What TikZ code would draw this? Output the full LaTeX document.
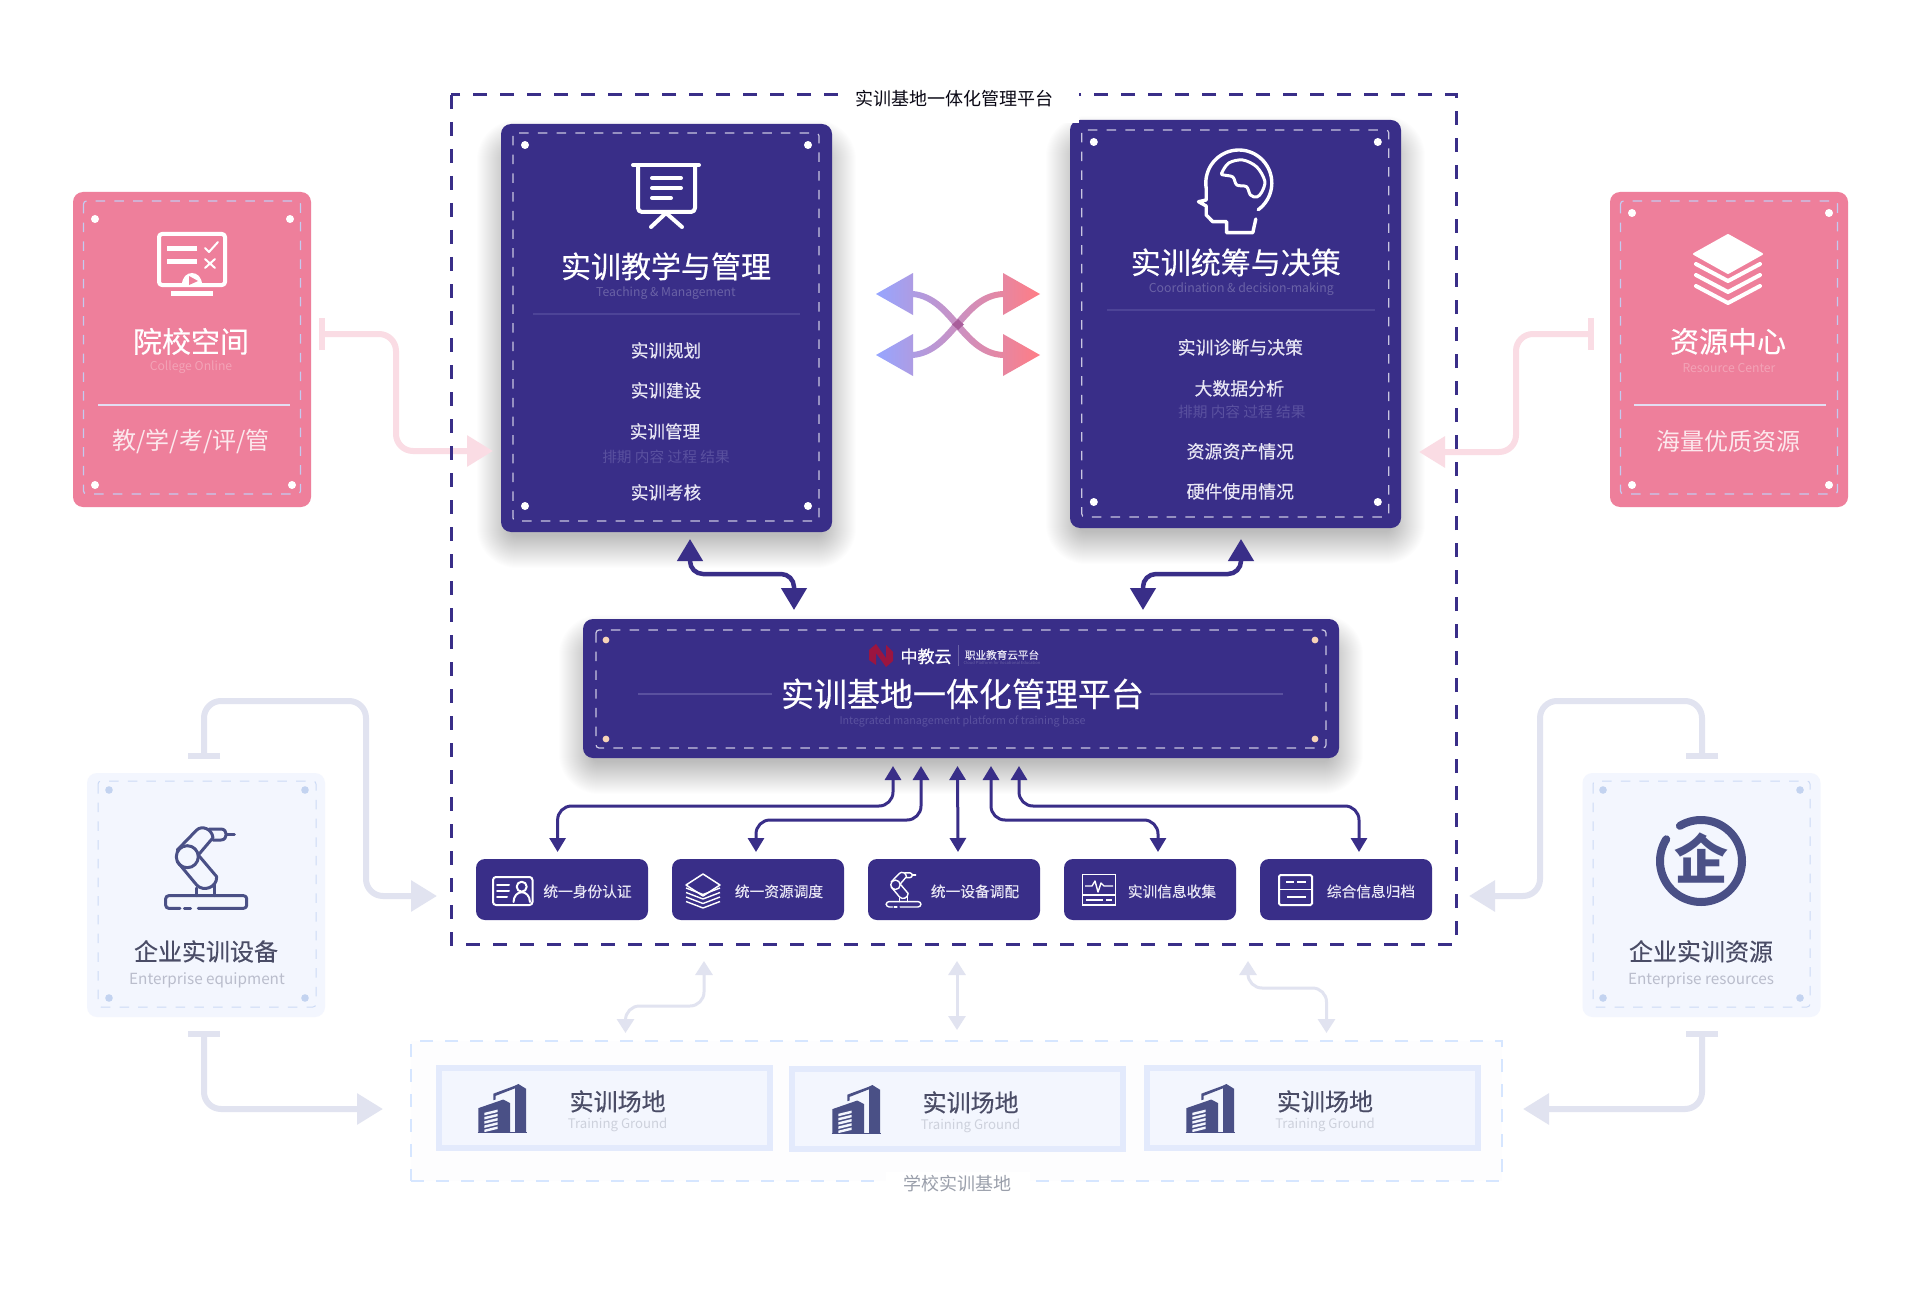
\documentclass[tikz,border=0pt]{standalone}
\usepackage{fontspec}
\setmainfont{Noto Sans CJK SC}
\newfontfamily\medf[FakeBold=0.35]{Noto Sans CJK SC}
\newfontfamily\semf[FakeBold=0.9]{Noto Sans CJK SC}
\usetikzlibrary{arrows.meta}
\definecolor{deep}{HTML}{392E88}
\definecolor{rose}{HTML}{EE7F9B}
\definecolor{rosepale}{HTML}{FADCE4}
\definecolor{lavline}{HTML}{E1E3F0}
\definecolor{paper}{HTML}{F3F6FE}
\definecolor{tilebd}{HTML}{E3EAFC}
\definecolor{frameb}{HTML}{D6E6FF}
\definecolor{ink}{HTML}{4A5086}
\definecolor{darktxt}{HTML}{4A4C66}
\definecolor{faint}{HTML}{BABDCC}
\definecolor{dsub}{HTML}{6A62A6}
\definecolor{dsubb}{HTML}{5A519F}
\definecolor{dsep}{HTML}{4D4497}
\definecolor{itemc}{HTML}{E8E6F4}
\definecolor{xl}{HTML}{96A5FF}
\definecolor{xr}{HTML}{FF7D85}
\definecolor{xmid}{HTML}{A95F9B}
\definecolor{peach}{HTML}{F7D4B8}
\definecolor{logored}{HTML}{9B1540}
\definecolor{dotblue}{HTML}{C3D3F0}
\definecolor{schoolbg}{HTML}{FDFDFE}
\definecolor{sctxt}{HTML}{9A9FAB}
\definecolor{grsub}{HTML}{CDD1DC}
\definecolor{dashpk}{HTML}{C4CBF0}
\definecolor{seppk}{HTML}{E3DDF2}
\definecolor{dashdk}{HTML}{C9C6E0}
\definecolor{dashlt}{HTML}{CCDAF5}
\newcommand\fsz[1]{\fontsize{#1}{#1}\selectfont}
\tikzset{
  cardnode/.style={rounded corners=10pt,inner sep=0pt,outer sep=0pt,draw=none},
  lbl/.style={inner sep=0pt,outer sep=0pt,align=center},
  lblc/.style={lbl,yshift=-.4pt},
  lbll/.style={lbl,yshift=-1.5pt},
  dashbox/.style={line width=1.2pt,dash pattern=on 9.5pt off 9.2pt,rounded corners=3pt},
  pinkflow/.style={draw=rosepale,line width=6pt,rounded corners=17pt},
  lavflow/.style={draw=lavline,line width=6pt,rounded corners=17pt},
  lavthin/.style={draw=lavline,line width=3pt,rounded corners=14pt,
     {Triangle[length=14pt,width=17pt]}-{Triangle[length=14pt,width=17pt]}},
  deepthick/.style={draw=deep,line width=4.5pt,rounded corners=13pt,
     {Triangle[length=22pt,width=25pt]}-{Triangle[length=22pt,width=25pt]}},
  deepthin/.style={draw=deep,line width=3pt,rounded corners=14pt,
     {Triangle[length=14pt,width=16pt]}-{Triangle[length=14pt,width=16pt]}},
  barhead/.style={{Bar[width=32pt,line width=6pt]}-{Triangle[length=26pt,width=30pt]}},
  icw/.style={draw=white,line width=4pt,line cap=round,line join=round},
  icn/.style={draw=white,line width=2pt,line cap=round,line join=round},
}
\newcommand\softshadow[4]{%
  \foreach \e in {24,23,...,-8}{%
    \pgfmathsetmacro\rr{max(6,16+\e)}%
    \fill[black,opacity=.0075,rounded corners=\rr pt]
      ({#1-\e},{#2+20-\e}) rectangle ({#3+\e},{#4+12+\e});}}
\newcommand\robotic[5]{%
  \begin{scope}[shift={(#1,#2)},scale=#3,shift={(-206,-870)},line width=#5,line cap=round,line join=round]
    \draw[#4] (187.3,856.7) circle (11pt);
    \draw[#4] (177.3,861.7) -- (196.7,885) .. controls (203,892) and (217,888) .. (216.7,876.7) -- (198.3,855);
    \draw[#4] (177.3,850) -- (196.7,830) .. controls (202,825) and (212,829) .. (213,837.7) -- (198.3,855);
    \draw[#4] (209,829) -- (221,829) .. controls (228,829) and (228,840) .. (221,840) -- (213,840);
    \draw[#4] (226.7,834.3) -- (234.3,834.3);
    \draw[#4] (196.7,888) -- (196.7,895.7);
    \draw[#4] (214.7,884) -- (214.7,895.7);
    \draw[#4,rounded corners=3pt] (180,908.3) -- (165.7,908.3) -- (165.7,895.7) -- (246.7,895.7) -- (246.7,908.3) -- (198.3,908.3);
    \draw[#4] (184.3,908.3) -- (190.7,908.3);
  \end{scope}}
\newcommand\tower[2]{%
  \begin{scope}[shift={(#1,#2)},yscale=1.08]
    \fill[ink] (50,10) -- (53.3,8.3) -- (61,12.7) -- (61,53.5) -- (50,53.5) -- cycle;
    \fill[ink] (28.3,17.3) -- (51.7,9.3) -- (51.7,11.7) -- (30.7,19.3) -- (30.7,22.7) -- (28.3,23.3) -- cycle;
    \fill[ink] (13.3,30.7) -- (38.3,22.7) -- (45,26) -- (45,53.5) -- (13.3,53.5) -- cycle;
    \foreach \k in {0,1,2,3,4}{
      \fill[paper] (19.3,{35+\k*3.9}) -- (32.7,{32+\k*3.9}) -- (32.7,{34.3+\k*3.9}) -- (19.3,{37.3+\k*3.9}) -- cycle;}
    \draw[ink,line width=1.2pt] (12.7,53.5) -- (61.7,53.5);
  \end{scope}}
\begin{document}
\begin{tikzpicture}[x=1pt,y=-1pt]
\useasboundingbox (0,0) rectangle (1920,1300);
\fill[white] (0,0) rectangle (1920,1300);

% shadows
\softshadow{501}{124}{832}{532}
\softshadow{1070}{120}{1401}{528}
\softshadow{583}{619}{1339}{758}

% frames
\node[lbl,fill=schoolbg,minimum width=1091pt,minimum height=140pt,draw=frameb,line width=2.5pt,dash pattern=on 13pt off 12pt] (school) at (956.5,1111) {};
\node[lbl,minimum width=1005pt,minimum height=849pt] (outer) at (953.5,519.5) {};

% main cards
\node[cardnode,fill=rose,minimum width=238pt,minimum height=315pt] (pinkL) at (192,349.5) {};
\node[cardnode,fill=rose,minimum width=238pt,minimum height=315pt] (pinkR) at (1729,349.5) {};
\node[cardnode,fill=paper,minimum width=238pt,minimum height=244pt] (equip) at (206,895) {};
\node[cardnode,fill=paper,minimum width=238pt,minimum height=244pt] (resrc) at (1701.5,895) {};

% coordinates of the connector ends
\coordinate (pka) at ([xshift=8,yshift=15.5]pinkL.east);
\coordinate (pkb) at (493,451);
\coordinate (pkc) at ([xshift=-16,yshift=15.5]pinkR.west);
\coordinate (pkd) at (1419,452);
\coordinate (eqa) at ([xshift=-2,yshift=14]equip.north);
\coordinate (eqb) at ([xshift=-14,yshift=-376.5]outer.west);
\coordinate (eqc) at ([xshift=-2,yshift=-14]equip.south);
\coordinate (eqd) at ([xshift=-28,yshift=2]school.west);
\coordinate (rsa) at ([xshift=.5,yshift=14]resrc.north);
\coordinate (rsb) at ([xshift=13,yshift=-376.5]outer.east);
\coordinate (rsc) at ([xshift=.5,yshift=-14]resrc.south);
\coordinate (rsd) at ([xshift=21,yshift=2]school.east);
\coordinate (lva) at ([xshift=-249.5,yshift=-17]outer.south);
\coordinate (lvb) at ([xshift=-331,yshift=8]school.north);
\coordinate (lvc) at ([xshift=3.5,yshift=-17]outer.south);
\coordinate (lvd) at ([xshift=.5,yshift=11]school.north);
\coordinate (lve) at ([xshift=294.5,yshift=-17]outer.south);
\coordinate (lvf) at ([xshift=370,yshift=8]school.north);

% pale connectors (under the dashed frame)
\draw[pinkflow,barhead] (pka) -- ++(77,0) |- (pkb);
\draw[pinkflow,barhead] (pkc) -- ++(-78,0) |- (pkd);
\draw[lavflow,barhead] (eqa) -- ++(0,-58) -- ++(162,0) |- (eqb);
\draw[lavflow,barhead] (eqc) |- (eqd);
\draw[lavflow,barhead] (rsa) -- ++(0,-58) -- ++(-162,0) |- (rsb);
\draw[lavflow,barhead] (rsc) |- (rsd);
\draw[lavthin] (lva) -- ++(0,45) -| (lvb);
\draw[lavthin] (lvc) -- (lvd);
\draw[lavthin] (lve) -- ++(0,27) -| (lvf);

% outer dashed frame
\draw[draw=deep,line width=3pt,dash pattern=on 14pt off 13pt] (outer.north west) rectangle (outer.south east);

% dark cards
\node[cardnode,fill=deep,minimum width=331pt,minimum height=408pt] (teach) at (666.5,328) {};
\node[cardnode,fill=deep,minimum width=331pt,minimum height=408pt] (coord) at (1235.5,324) {};
\node[cardnode,fill=deep,minimum width=756pt,minimum height=139pt] (plat) at (961,688.5) {};

% gap in the outer frame for its title
\fill[white] (840,85) rectangle (1079,122.6);
\node[lblc,font=\fsz{18},text=black!85!deep] (ttop) at (954,98) {实训基地一体化管理平台};

% tiles below the platform
\foreach \xc/\xn in {562/bxa,758/bxb,954/bxc,1150/bxd,1346/bxe}{
  \node[cardnode,rounded corners=9pt,fill=deep,minimum width=172pt,minimum height=61pt] (\xn) at (\xc,889.5) {};}
\foreach \xc/\xt/\xn in {587.5/统一身份认证/tba,779/统一资源调度/tbb,975/统一设备调配/tbc,1172/实训信息收集/tbd,1371/综合信息归档/tbe}{
  \node[lblc,font=\fsz{14.7}\medf,text=itemc] (\xn) at (\xc,891) {\xt};}

% dark connectors
\coordinate (dka) at ([xshift=23.5,yshift=-7]teach.south);
\coordinate (dkb) at ([xshift=-167,yshift=9]plat.north);
\coordinate (dkc) at ([xshift=5.5,yshift=-11]coord.south);
\coordinate (dkd) at ([xshift=182,yshift=9]plat.north);
\draw[deepthick] (dka) -- ++(0,35) -| (dkb);
\draw[deepthick] (dkc) -- ++(0,35) -| (dkd);
\coordinate (fua) at ([xshift=-68,yshift=-8]plat.south);
\coordinate (fub) at ([xshift=-40,yshift=-8]plat.south);
\coordinate (fuc) at ([xshift=-3.5,yshift=-8]plat.south);
\coordinate (fud) at ([xshift=30,yshift=-8]plat.south);
\coordinate (fue) at ([xshift=58,yshift=-8]plat.south);
\coordinate (fda) at ([xshift=-4.4,yshift=7]bxa.north);
\coordinate (fdb) at ([xshift=-2,yshift=7]bxb.north);
\coordinate (fdc) at ([xshift=4,yshift=7]bxc.north);
\coordinate (fdd) at ([xshift=8,yshift=7]bxd.north);
\coordinate (fde) at ([xshift=13,yshift=7]bxe.north);
\draw[deepthin] (fua) -- ++(0,40) -| (fda);
\draw[deepthin] (fub) -- ++(0,54) -| (fdb);
\draw[deepthin] (fuc) -- (fdc);
\draw[deepthin] (fud) -- ++(0,54) -| (fdd);
\draw[deepthin] (fue) -- ++(0,40) -| (fde);

% crossing arrows
\shade[left color=xl,right color=xr]
  (876,294) -- (913,273) -- (913,291) .. controls (955,295) and (965,350) .. (1003,352)
  -- (1003,334) -- (1040,355) -- (1003,376) -- (1003,358) .. controls (960,356) and (950,301) .. (913,297) -- (913,315) -- cycle;
\shade[left color=xl,right color=xr]
  (876,355) -- (913,334) -- (913,352) .. controls (950,348) and (960,293) .. (1003,291)
  -- (1003,273) -- (1040,294) -- (1003,315) -- (1003,297) .. controls (965,299) and (955,354) .. (913,358) -- (913,376) -- cycle;
\fill[xmid] (958,319) .. controls (961,322) and (962,323) .. (964,324.5) .. controls (962,326) and (961,327) .. (958,330) .. controls (955,327) and (954,326) .. (952,324.5) .. controls (954,323) and (955,322) .. (958,319) -- cycle;

% ---------- pink left
\draw[dashbox,draw=dashpk] (83.5,201) rectangle (300.5,494);
\foreach \p in {(95,219),(290,219),(95,485),(292,485)}{\fill[white] \p circle (4pt);}
\draw[icw,rounded corners=3pt] (159,234) rectangle (225,285);
\draw[line width=5pt,draw=white] (167,249) -- (197,249) (167,262) -- (197,262);
\draw[icn] (205,248) -- (209,252) -- (218,242);
\draw[icn] (205,259) -- (215,268) (215,259) -- (205,268);
\fill[white] (182,285) .. controls (182,269) and (202,269) .. (202,285) -- cycle;
\fill[rose] (189,276) -- (198,281) -- (189,285) -- cycle;
\fill[white] (171,291) rectangle (213,296);
\node[lblc,font=\fsz{29}\medf,text=white] (plt) at (191,341) {院校空间};
\node[lbll,font=\fsz{12.2},text=rose!72!white] (pls) at (191,365.5) {College Online};
\draw[line width=1.5pt,draw=seppk] (98,405) -- (290,405);
\node[lblc,font=\fsz{24},text=rose!18!white] (plb) at (191,441) {教/学/考/评/管};

% ---------- pink right
\draw[dashbox,draw=dashpk] (1620.5,201) rectangle (1837.5,494);
\foreach \p in {(1632,213),(1829,213),(1632,485),(1829,485)}{\fill[white] \p circle (4pt);}
\fill[white,draw=white,line width=2pt,line join=round] (1728,235) -- (1762,254) -- (1728,273) -- (1694,254) -- cycle;
\foreach \d in {0,11,22}{\draw[white,line width=4pt,line cap=round,line join=round] (1696,{264+\d}) -- (1728,{281+\d}) -- (1760,{264+\d});}
\node[lblc,font=\fsz{29}\medf,text=white] (prt) at (1728,341) {资源中心};
\node[lbll,font=\fsz{12.2},text=rose!72!white] (prs) at (1729,366.5) {Resource Center};
\draw[line width=1.5pt,draw=seppk] (1634,405) -- (1826,405);
\node[lblc,font=\fsz{24},text=rose!18!white] (prb) at (1728,441) {海量优质资源};

% ---------- teaching
\draw[dashbox,draw=dashdk] (513,133) rectangle (819,521);
\foreach \p in {(525,145),(808,145),(525,506),(808,506)}{\fill[white] \p circle (4pt);}
\draw[icw] (633,165) -- (699,165);
\draw[icw,rounded corners=4pt] (638,165) -- (638,212) -- (695,212) -- (695,165);
\draw[icw] (652,178) -- (681,178) (652,188) -- (681,188) (652,198) -- (671,198);
\draw[icw] (666,213) -- (651,227) (666,213) -- (682,227);
\node[lblc,font=\fsz{30}\medf,text=white] (tct) at (666,266) {实训教学与管理};
\node[lbll,font=\fsz{12.2},text=dsub] (tcs) at (666,291.5) {Teaching \& Management};
\draw[line width=1.2pt,draw=dsep] (533,314) -- (800,314);
\node[lblc,font=\fsz{17.6}\medf,text=itemc] (tca) at (666,350) {实训规划};
\node[lblc,font=\fsz{17.6}\medf,text=itemc] (tcb) at (666,390) {实训建设};
\node[lblc,font=\fsz{17.6}\medf,text=itemc] (tcc) at (665,431) {实训管理};
\node[lblc,font=\fsz{14.7},text=dsubb] (tcd) at (666,456) {排期 内容 过程 结果};
\node[lblc,font=\fsz{17.6}\medf,text=itemc] (tce) at (666,492) {实训考核};

% ---------- coordination
\begin{scope}[xshift=-1.2pt]
\draw[dashbox,draw=dashdk] (1083,130) rectangle (1390,517);
\foreach \p in {(1095,142),(1379,142),(1095,502),(1379,502)}{\fill[white] \p circle (4pt);}
\draw[white,line width=3.4pt,line cap=round,line join=round]
  plot[domain=414:171,samples=60] ({1240+33*cos(\x)},{183+33*sin(\x)})
  -- (1207.4,200) -- (1199.7,201.7) -- (1207.4,206) -- (1207.4,215) -- (1214,221.7) -- (1227.8,221.7) -- (1227.8,232.7) -- (1254,232.7) -- (1257,219);
\draw[white,line width=3pt,line join=round] plot[smooth cycle,tension=.55] coordinates {(1222.8,173.3) (1230,163) (1244,160) (1258,167) (1266,181) (1263,192) (1258,197) (1251.6,195) (1247.7,186.7) (1238,185) (1234,177) (1225,175)};
\node[lblc,font=\fsz{30}\medf,text=white] (cct) at (1237,262) {实训统筹与决策};
\node[lbll,font=\fsz{12.3},text=dsub] (ccs) at (1242.5,287.5) {Coordination \& decision-making};
\draw[line width=1.2pt,draw=dsep] (1108,310) -- (1376,310);
\node[lblc,font=\fsz{17.9}\medf,text=itemc] (cca) at (1241.5,347) {实训诊断与决策};
\node[lblc,font=\fsz{17.9}\medf,text=itemc] (ccb) at (1240.5,388) {大数据分析};
\node[lblc,font=\fsz{14.7},text=dsubb] (ccc) at (1243,411) {排期 内容 过程 结果};
\node[lblc,font=\fsz{17.9}\medf,text=itemc] (ccd) at (1241.5,451) {资源资产情况};
\node[lblc,font=\fsz{17.9}\medf,text=itemc] (cce) at (1241.5,491) {硬件使用情况};
\end{scope}

% ---------- platform
\draw[dashbox,draw=dashdk] (596,630) rectangle (1326,748);
\foreach \p in {(606,640),(1315,640),(606,739),(1315,739)}{\fill[peach] \p circle (3.4pt);}
\fill[logored] (869,650) -- (876,644) -- (886,658) -- (886,645) -- (893,652) -- (893,661) -- (886,667) -- (876,653) -- (876,665) -- (869,660) -- cycle;
\node[lblc,font=\fsz{17}\semf,text=white] (lgt) at (926,656) {中教云};
\draw[line width=.6pt,draw=dsub] (958,645) -- (958,666);
\node[lblc,font=\fsz{10.6}\medf,text=itemc] (lgs) at (1002,654.5) {职业教育云平台};
\node[lbl,font=\fsz{4.1},text=dsub] (lge) at (1002,662.5) {Cloud Platform for Vocational Education};
\node[lblc,font=\fsz{33}\medf,text=white] (pttl) at (962.5,693.5) {实训基地一体化管理平台};
\draw[line width=2pt,draw=dsubb] (638,693.7) -- (771.5,693.7) (1149.6,693.7) -- (1283,693.7);
\node[lbll,font=\fsz{10.7},text=dsubb] (psub) at (962.5,720.5) {Integrated management platform of training base};

% ---------- tile icons
\draw[icn,rounded corners=3pt] (493,877) rectangle (532.5,905);
\draw[icn] (497,885) -- (509,885) (497,890.7) -- (509,890.7) (497,896.7) -- (507,896.7);
\draw[icn] (521.7,886.7) circle (5pt);
\draw[icn] (513.5,902) .. controls (514,889) and (529.5,889) .. (530,902);
\draw[white,line width=1.5pt,line join=round] (703,874) -- (720,885) -- (703,896) -- (686,885) -- cycle;
\foreach \d in {0,4.5,9,13.5}{\draw[white,line width=1.4pt,line join=round] (686,{888+\d}) -- (703,{894.5+\d}) -- (720,{888+\d});}
\robotic{903.5}{890.5}{.43}{white}{1.4pt}
\draw[white,line width=1.4pt] (1082.5,874.5) rectangle (1115.5,905);
\draw[white,line width=1.4pt,line join=round] (1085,886) -- (1092,886) -- (1095,881) -- (1098,892) -- (1101,883) -- (1104,886) -- (1113,886);
\draw[white,line width=1.4pt] (1082.5,895) -- (1115.5,895) (1086,900) -- (1103,900) (1106,900) -- (1112,900);
\draw[white,line width=2pt,rounded corners=1.5pt] (1279,875) rectangle (1312,905);
\draw[white,line width=1.6pt] (1279,889.3) -- (1312,889.3) (1286,882) -- (1294,882) (1297,882) -- (1306,882) (1287,896.7) -- (1306,896.7);

% ---------- enterprise equipment
\draw[dashbox,line width=1pt,draw=dashlt] (98,781) rectangle (316,1007);
\foreach \p in {(109,790),(305,790),(109,998),(305,998)}{\fill[dotblue] \p circle (3.8pt);}
\robotic{206}{870}{1}{ink}{3pt}
\node[lblc,font=\fsz{24}\medf,text=darktxt] (eqt) at (206,951) {企业实训设备};
\node[lbll,font=\fsz{15.3},text=faint] (eqs) at (207,978.5) {Enterprise equipment};

% ---------- enterprise resources
\draw[dashbox,line width=1pt,draw=dashlt] (1593,781) rectangle (1810,1007);
\foreach \p in {(1603,790),(1800,790),(1603,998),(1800,998)}{\fill[dotblue] \p circle (3.8pt);}
\draw[ink,line width=8pt,line cap=round] plot[domain=-121:212,samples=80] ({1701+41*cos(\x)},{861+41*sin(\x)});
\node[lbl,font=\fsz{54}\bfseries,text=ink] (qi) at (1701,858) {企};
\node[lblc,font=\fsz{24}\medf,text=darktxt] (rst) at (1701,951) {企业实训资源};
\node[lbll,font=\fsz{15.3},text=faint] (rss) at (1701,978.5) {Enterprise resources};

% ---------- school
\node[lbl,fill=white,minimum width=144pt,minimum height=22pt] (scgap) at (958,1183) {};
\node[lblc,font=\fsz{18},text=sctxt] (sct) at (957,1183) {学校实训基地};
\node[lbl,fill=paper,draw=tilebd,line width=6pt,minimum width=331pt,minimum height=80pt] (grA) at (604.25,1108) {};
\node[lbl,fill=paper,draw=tilebd,line width=6pt,minimum width=331pt,minimum height=80pt] (grB) at (957.75,1108.5) {};
\node[lbl,fill=paper,draw=tilebd,line width=6pt,minimum width=331pt,minimum height=80pt] (grC) at (1312,1108) {};
\tower{465}{1075}
\tower{819}{1076}
\tower{1173}{1075}
\node[lblc,font=\fsz{24}\medf,text=darktxt] (gta) at (617.6,1101) {实训场地};
\node[lbll,font=\fsz{13.2},text=grsub] (gsa) at (617.6,1123.5) {Training Ground};
\node[lblc,font=\fsz{24}\medf,text=darktxt] (gtb) at (970.6,1102) {实训场地};
\node[lbll,font=\fsz{13.2},text=grsub] (gsb) at (970.6,1124.5) {Training Ground};
\node[lblc,font=\fsz{24}\medf,text=darktxt] (gtc) at (1325,1101) {实训场地};
\node[lbll,font=\fsz{13.2},text=grsub] (gsc) at (1325,1123.5) {Training Ground};
\end{tikzpicture}
\end{document}
